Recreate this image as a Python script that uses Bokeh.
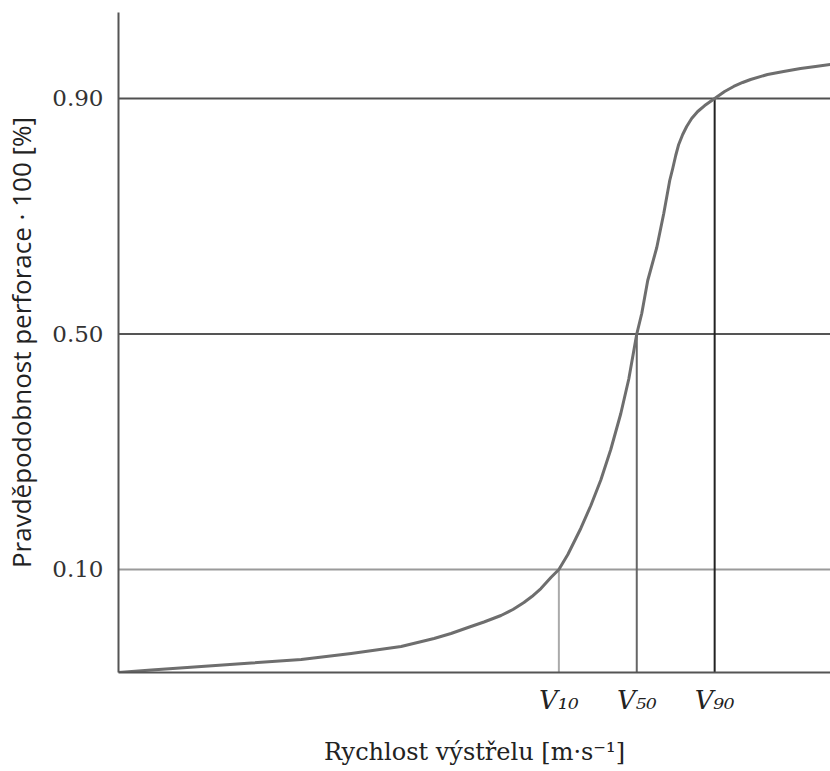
from bokeh.plotting import figure
from bokeh.models import FixedTicker, Range1d
from bokeh.embed import file_html
from bokeh.resources import INLINE

# Velocity (arbitrary units) and perforation probability
velocity = [0.00, 4.63, 11.64, 18.65, 25.67, 32.68, 39.69, 44.32, 46.70, 49.09,
            51.33, 53.72, 55.40, 56.94, 58.06, 59.33, 60.73, 61.85, 63.11, 64.94,
            66.34, 67.74, 69.14, 70.55, 71.67, 72.79, 73.49, 74.33, 75.60, 76.58,
            77.42, 77.84, 78.26, 78.68, 79.24, 79.80, 80.50, 81.35, 82.33, 83.73,
            85.13, 86.40, 87.66, 88.78, 91.16, 93.41, 95.79, 97.90, 100.0]
probability = [-0.0749, -0.0707, -0.0648, -0.0588, -0.0529, -0.0427, -0.0308, -0.0172, -0.0087, 0.0015,
               0.0108, 0.0219, 0.0321, 0.0439, 0.0541, 0.0677, 0.0864, 0.1000, 0.1255, 0.1701,
               0.2087, 0.2520, 0.3038, 0.3650, 0.4236, 0.5000, 0.5348, 0.5909, 0.6469, 0.7047,
               0.7607, 0.7811, 0.8032, 0.8219, 0.8389, 0.8524, 0.8660, 0.8779, 0.8880, 0.9000,
               0.9119, 0.9204, 0.9272, 0.9323, 0.9408, 0.9459, 0.9510, 0.9544, 0.9578]

levels = [0.10, 0.50, 0.90]
level_labels = ["0.10", "0.50", "0.90"]
v_positions = [61.85, 72.79, 83.73]
v_labels = ["V₁₀", "V₅₀", "V₉₀"]

h_colors = ["#9a9a9a", "#555555", "#505050"]
v_colors = ["#aaaaaa", "#666666", "#222222"]

x_start, x_end = 0.0, 100.0
y_start, y_end = -0.07495, 1.04607

p = figure(width=830, height=771, output_backend="svg", toolbar_location=None,
           x_range=Range1d(x_start, x_end), y_range=Range1d(y_start, y_end),
           min_border_left=116, min_border_right=0, min_border_top=12, min_border_bottom=99)
p.outline_line_color = None
p.xgrid.visible = False
p.ygrid.visible = False

# y axis
p.yaxis.ticker = FixedTicker(ticks=levels)
p.yaxis.major_label_overrides = {lv: lb for lv, lb in zip(levels, level_labels)}
p.yaxis.major_tick_out = 0
p.yaxis.major_tick_in = 0
p.yaxis.minor_tick_out = 0
p.yaxis.minor_tick_in = 0
p.yaxis.major_label_standoff = 15
p.yaxis.major_label_text_font = "DejaVu Serif"
p.yaxis.major_label_text_font_size = "23px"
p.yaxis.major_label_text_color = "#333333"
p.yaxis.axis_label = "Pravděpodobnost perforace · 100 [%]"
p.yaxis.axis_label_text_font = "Open Sans"
p.yaxis.axis_label_text_font_size = "26px"
p.yaxis.axis_label_text_font_style = "normal"
p.yaxis.axis_label_text_color = "#222222"
p.yaxis.axis_label_standoff = 10
p.yaxis.axis_line_color = "#555555"
p.yaxis.axis_line_width = 2

# x axis: ticks at V10, V50, V90
p.xaxis.ticker = FixedTicker(ticks=v_positions)
p.xaxis.major_label_overrides = {vx: lb for vx, lb in zip(v_positions, v_labels)}
p.xaxis.major_tick_out = 0
p.xaxis.major_tick_in = 0
p.xaxis.minor_tick_out = 0
p.xaxis.minor_tick_in = 0
p.xaxis.major_label_standoff = 12
p.xaxis.major_label_text_font = "DejaVu Serif"
p.xaxis.major_label_text_font_style = "italic"
p.xaxis.major_label_text_font_size = "26px"
p.xaxis.major_label_text_color = "#222222"
p.xaxis.axis_label = "Rychlost výstřelu [m·s⁻¹]"
p.xaxis.axis_label_text_font = "DejaVu Serif"
p.xaxis.axis_label_text_font_size = "24px"
p.xaxis.axis_label_text_font_style = "normal"
p.xaxis.axis_label_text_color = "#222222"
p.xaxis.axis_label_standoff = 20
p.xaxis.axis_line_color = "#555555"
p.xaxis.axis_line_width = 2

# level lines
p.segment(x0=[x_start] * 3, x1=[x_end] * 3, y0=levels, y1=levels,
          line_color=h_colors, line_width=2)
p.segment(x0=v_positions, x1=v_positions, y0=[y_start] * 3, y1=levels,
          line_color=v_colors, line_width=2)

# curve
p.line(velocity, probability, line_color="#6e6e6e", line_width=3, line_join="round")

open("out.html", "w").write(file_html(p, INLINE))
